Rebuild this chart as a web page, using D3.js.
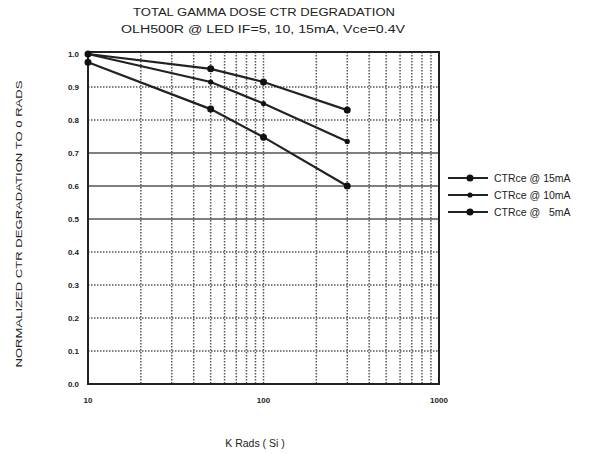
<!DOCTYPE html>
<html><head><meta charset="utf-8">
<script src="https://cdn.jsdelivr.net/npm/d3@7"></script>
<style>body{margin:0;background:#fff}svg{display:block}text{font-family:"Liberation Sans",Arial,sans-serif;fill:#222}</style>
</head><body><svg id="c" width="606" height="454"></svg>
<script>
const doses = [10, 50, 100, 300];
const ctr15 = [1.0, 0.955, 0.915, 0.83];
const ctr10 = [1.0, 0.915, 0.85, 0.735];
const ctr5  = [0.975, 0.833, 0.748, 0.60];
const seriesNames = ["CTRce @ 15mA", "CTRce @ 10mA", "CTRce @   5mA"];
const yTicks = [0.0,0.1,0.2,0.3,0.4,0.5,0.6,0.7,0.8,0.9,1.0];
const xTicks = [10, 100, 1000];
const solidY = [0.5, 0.6, 0.7];
const titleLines = ["TOTAL GAMMA DOSE CTR DEGRADATION", "OLH500R @ LED IF=5, 10, 15mA, Vce=0.4V"];

const svg = d3.select("#c");
const L=88, R=439, T=52, B=384;
const x = d3.scaleLog().domain([10,1000]).range([L,R]);
const y = d3.scaleLinear().domain([0,1.0]).range([B,T+2]);

// grid
const minor = [];
[10,100].forEach(d=>{for(let k=2;k<=9;k++)minor.push(d*k);});
minor.push(100);
svg.append("g").selectAll("line").data(minor).join("line")
  .attr("x1",d=>x(d)).attr("x2",d=>x(d)).attr("y1",T).attr("y2",B)
  .attr("stroke","#555").attr("stroke-width",1.5).attr("stroke-dasharray","1.5,1.5");
svg.append("g").selectAll("line").data(yTicks.filter(v=>v>0&&v<1)).join("line")
  .attr("x1",L).attr("x2",R).attr("y1",d=>y(d)).attr("y2",d=>y(d))
  .attr("stroke","#555")
  .attr("stroke-width",1.5)
  .attr("stroke-dasharray",d=>solidY.some(s=>Math.abs(s-d)<1e-6)?null:"1.5,1.5");
// frame
svg.append("rect").attr("x",L).attr("y",T).attr("width",R-L).attr("height",B-T)
  .attr("fill","none").attr("stroke","#222").attr("stroke-width",2);

// axes labels
svg.append("g").selectAll("text").data(yTicks).join("text")
  .attr("x",79).attr("y",d=>y(d)+3).attr("text-anchor","end")
  .attr("font-size",8).attr("font-weight","bold").text(d=>d.toFixed(1));
svg.append("g").selectAll("text").data(xTicks).join("text")
  .attr("x",d=>x(d)).attr("y",403).attr("text-anchor","middle")
  .attr("font-size",8).attr("font-weight","bold").text(d=>d);

// series
const series = [ctr15, ctr10, ctr5];
const radii = [3.5, 2.6, 3.5];
const line = d3.line().x((d,i)=>x(doses[i])).y(d=>y(d));
series.forEach((s,k)=>{
  svg.append("path").datum(s).attr("d",line).attr("fill","none")
    .attr("stroke","#222").attr("stroke-width",2.2);
  svg.append("g").selectAll("circle").data(s).join("circle")
    .attr("cx",(d,i)=>x(doses[i])).attr("cy",d=>y(d)).attr("r",radii[k]).attr("fill","#111");
});

// legend
const ly=[178,195,212];
seriesNames.forEach((n,k)=>{
  svg.append("line").attr("x1",448).attr("x2",488).attr("y1",ly[k]).attr("y2",ly[k])
    .attr("stroke","#222").attr("stroke-width",2);
  svg.append("circle").attr("cx",470).attr("cy",ly[k]).attr("r",radii[k]).attr("fill","#111");
  svg.append("text").attr("x",494).attr("y",ly[k]+4).attr("font-size",10.5).attr("fill","#333")
    .attr("xml:space","preserve").style("white-space","pre").text(n);
});

// titles
svg.append("text").attr("x",264).attr("y",16).attr("text-anchor","middle").attr("font-size",10)
  .attr("textLength",262).attr("lengthAdjust","spacingAndGlyphs").text(titleLines[0]);
svg.append("text").attr("x",263).attr("y",33).attr("text-anchor","middle").attr("font-size",10)
  .attr("textLength",284).attr("lengthAdjust","spacingAndGlyphs").text(titleLines[1]);
svg.append("text").attr("transform","translate(22,224) rotate(-90)").attr("text-anchor","middle")
  .attr("font-size",9).attr("fill","#333").attr("textLength",287).attr("lengthAdjust","spacingAndGlyphs")
  .text("NORMALIZED CTR DEGRADATION TO 0 RADS");
svg.append("text").attr("x",255).attr("y",447).attr("text-anchor","middle").attr("font-size",10.5).attr("fill","#333")
  .text("K Rads ( Si )");
</script></body></html>
